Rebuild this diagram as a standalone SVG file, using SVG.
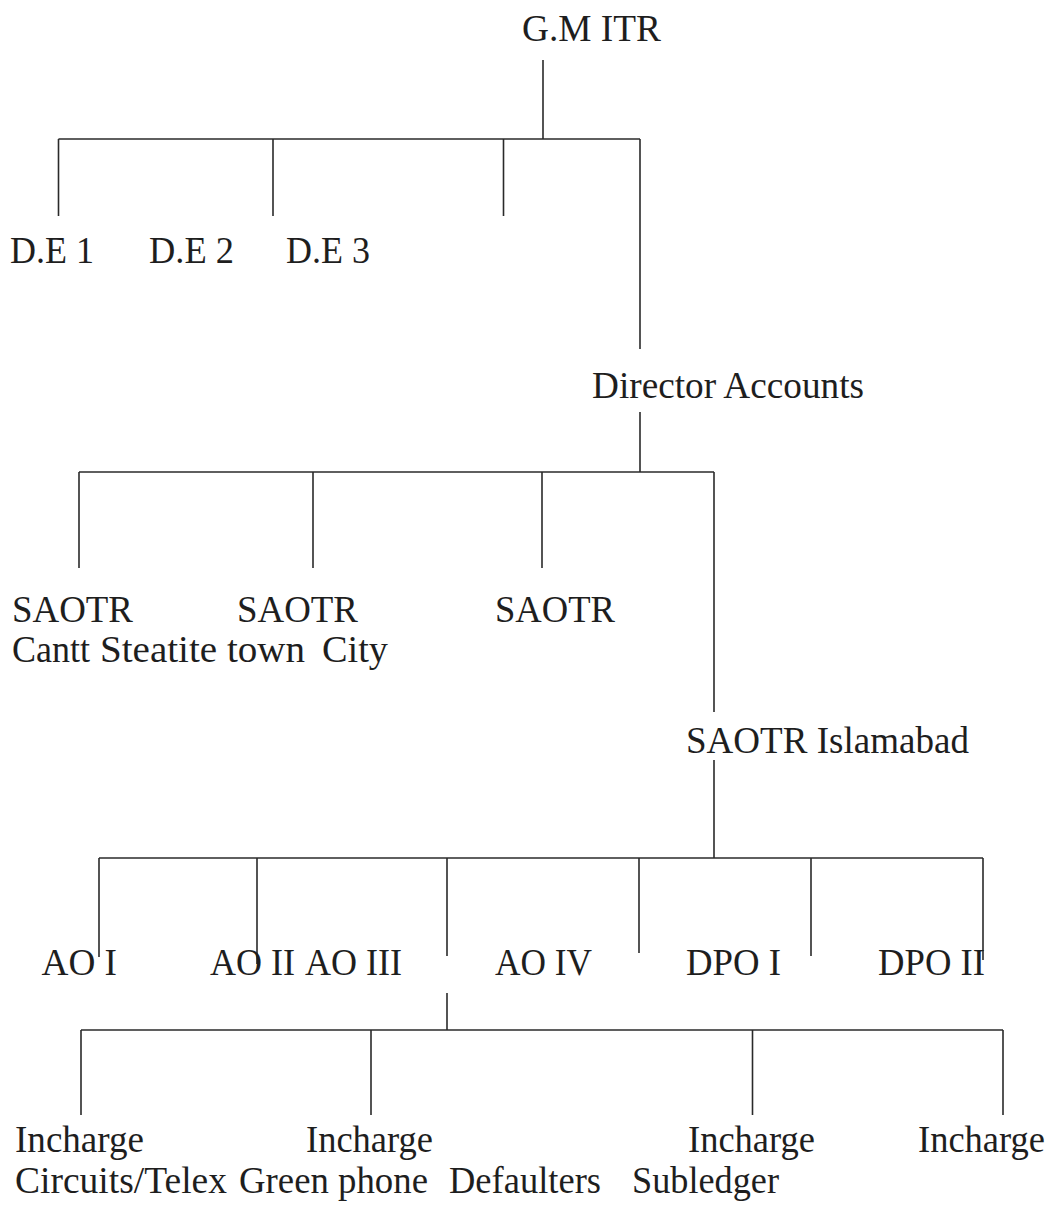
<svg xmlns="http://www.w3.org/2000/svg" width="1049" height="1213" viewBox="0 0 1049 1213">
<style>
text{font-family:"Liberation Serif","Times New Roman",serif;font-size:37px;fill:#1e1e1e}
.c line{stroke:#2a2a2a;stroke-width:1.6;fill:none}
</style>
<rect width="1049" height="1213" fill="#ffffff"/>
<g class="c" id="connectors">
<line x1="543" y1="60" x2="543" y2="139"/>
<line x1="58.5" y1="139" x2="640" y2="139"/>
<line x1="58.5" y1="139" x2="58.5" y2="216"/>
<line x1="273" y1="139" x2="273" y2="216"/>
<line x1="503.5" y1="139" x2="503.5" y2="216"/>
<line x1="640" y1="139" x2="640" y2="349"/>
<line x1="640" y1="412" x2="640" y2="472"/>
<line x1="79" y1="472" x2="714" y2="472"/>
<line x1="79" y1="472" x2="79" y2="568"/>
<line x1="313" y1="472" x2="313" y2="568"/>
<line x1="542" y1="472" x2="542" y2="568"/>
<line x1="714" y1="472" x2="714" y2="712"/>
<line x1="714" y1="760" x2="714" y2="858"/>
<line x1="99" y1="858" x2="983" y2="858"/>
<line x1="99" y1="858" x2="99" y2="957"/>
<line x1="257" y1="858" x2="257" y2="964"/>
<line x1="447" y1="858" x2="447" y2="956"/>
<line x1="639" y1="858" x2="639" y2="953"/>
<line x1="811" y1="858" x2="811" y2="956"/>
<line x1="983" y1="858" x2="983" y2="960"/>
<line x1="447" y1="993" x2="447" y2="1030"/>
<line x1="81" y1="1030" x2="1003" y2="1030"/>
<line x1="81" y1="1030" x2="81" y2="1115"/>
<line x1="371" y1="1030" x2="371" y2="1115"/>
<line x1="752.5" y1="1030" x2="752.5" y2="1115"/>
<line x1="1003" y1="1030" x2="1003" y2="1115"/>
</g>
<g id="gm-itr"><text x="522" y="41" textLength="139" lengthAdjust="spacingAndGlyphs">G.M ITR</text></g>
<g id="de1"><text x="10" y="263" textLength="84" lengthAdjust="spacingAndGlyphs">D.E 1</text></g>
<g id="de2"><text x="149" y="263" textLength="85" lengthAdjust="spacingAndGlyphs">D.E 2</text></g>
<g id="de3"><text x="286" y="263" textLength="84" lengthAdjust="spacingAndGlyphs">D.E 3</text></g>
<g id="director-accounts"><text x="592" y="398" textLength="272" lengthAdjust="spacingAndGlyphs">Director Accounts</text></g>
<g id="saotr-cantt"><text x="12" y="622" textLength="121" lengthAdjust="spacingAndGlyphs">SAOTR</text><text x="12" y="662" textLength="78" lengthAdjust="spacingAndGlyphs">Cantt</text></g>
<g id="saotr-steatite"><text x="237" y="622" textLength="121" lengthAdjust="spacingAndGlyphs">SAOTR</text><text x="100" y="662" textLength="205" lengthAdjust="spacingAndGlyphs">Steatite town</text></g>
<g id="saotr-city"><text x="495" y="622" textLength="120" lengthAdjust="spacingAndGlyphs">SAOTR</text><text x="322" y="662" textLength="66" lengthAdjust="spacingAndGlyphs">City</text></g>
<g id="saotr-islamabad"><text x="686" y="753" textLength="283" lengthAdjust="spacingAndGlyphs">SAOTR Islamabad</text></g>
<g id="ao1"><text x="41.5" y="975" textLength="75.5" lengthAdjust="spacingAndGlyphs">AO I</text></g>
<g id="ao2"><text x="210" y="975" textLength="85" lengthAdjust="spacingAndGlyphs">AO II</text></g>
<g id="ao3"><text x="305" y="975" textLength="97" lengthAdjust="spacingAndGlyphs">AO III</text></g>
<g id="ao4"><text x="495" y="975" textLength="97" lengthAdjust="spacingAndGlyphs">AO IV</text></g>
<g id="dpo1"><text x="686" y="975" textLength="95" lengthAdjust="spacingAndGlyphs">DPO I</text></g>
<g id="dpo2"><text x="878" y="975" textLength="107" lengthAdjust="spacingAndGlyphs">DPO II</text></g>
<g id="incharge-circuits"><text x="15" y="1152" textLength="129" lengthAdjust="spacingAndGlyphs">Incharge</text><text x="15" y="1193" textLength="212" lengthAdjust="spacingAndGlyphs">Circuits/Telex</text></g>
<g id="incharge-green"><text x="306" y="1152" textLength="127" lengthAdjust="spacingAndGlyphs">Incharge</text><text x="239" y="1193" textLength="189" lengthAdjust="spacingAndGlyphs">Green phone</text></g>
<g id="defaulters"><text x="449" y="1193" textLength="152" lengthAdjust="spacingAndGlyphs">Defaulters</text></g>
<g id="incharge-subledger"><text x="688" y="1152" textLength="127" lengthAdjust="spacingAndGlyphs">Incharge</text><text x="632" y="1193" textLength="147" lengthAdjust="spacingAndGlyphs">Subledger</text></g>
<g id="incharge-4"><text x="918" y="1152" textLength="127" lengthAdjust="spacingAndGlyphs">Incharge</text></g>
</svg>
